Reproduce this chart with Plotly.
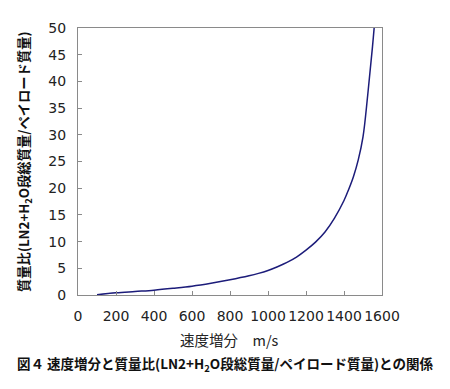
import plotly.graph_objects as go

# 速度増分 (m/s)
delta_v = [100, 200, 300, 400, 500, 600, 700, 800, 900, 950, 1000, 1050, 1100, 1150,
           1200, 1250, 1300, 1350, 1400, 1425, 1450, 1475, 1500, 1525, 1550, 1575]
# 質量比
mass_ratio = [0.05, 0.4, 0.65, 0.9, 1.25, 1.65, 2.2, 2.85, 3.6, 4.05, 4.6, 5.3, 6.1, 7.1,
              8.4, 9.9, 11.8, 14.4, 17.7, 19.8, 22.2, 25.3, 29.6, 37.5, 46.5, 57.0]

x_ticks = [0, 200, 400, 600, 800, 1000, 1200, 1400, 1600]
y_ticks = [0, 5, 10, 15, 20, 25, 30, 35, 40, 45, 50]

JP = "Noto Sans CJK JP"
NUM = "DejaVu Sans"

# The page body has an 8px margin, so the figure is drawn 8px smaller
OFF = 8
W, H = 450 - OFF, 389 - OFF
PL, PR, PT, PB = 78 - OFF, 382 - OFF, 22 - OFF, 295 - OFF  # plot area in figure px
pw, ph = PR - PL, PB - PT

fig = go.Figure()
fig.add_trace(go.Scatter(
    x=delta_v, y=mass_ratio, mode="lines",
    line=dict(color="#1c1c7a", width=1.5, shape="spline", smoothing=1.0),
    showlegend=False,
))

axis_common = dict(
    showline=True, linecolor="#8a8a8a", linewidth=1, mirror=True,
    ticks="inside", ticklen=4, tickcolor="#8a8a8a", tickwidth=1,
    showgrid=False, zeroline=False, tickangle=0,
    tickfont=dict(family=NUM, size=14, color="#222222"),
)

fig.update_xaxes(range=[0, 1600], tickvals=x_ticks, ticklabelstandoff=8, **axis_common)
fig.update_yaxes(range=[0, 50], tickvals=y_ticks, ticklabelstandoff=8, **axis_common)

def px_x(x):
    return (x - OFF - PL) / pw

def px_y(y):
    return (PB - (y - OFF)) / ph

fig.update_layout(
    width=W, height=H,
    margin=dict(l=PL, r=W - PR, t=PT, b=H - PB, pad=0),
    plot_bgcolor="white", paper_bgcolor="white",
    annotations=[
        dict(text="速度増分　m/s", xref="paper", yref="paper",
             x=px_x(229), y=px_y(341), xanchor="center", yanchor="middle",
             showarrow=False, font=dict(family=JP, size=14.5, color="#222222")),
        dict(text="<b>図４ 速度増分と質量比(LN2+H<sub>2</sub>O段総質量/ペイロード質量)との関係</b>",
             xref="paper", yref="paper",
             x=px_x(225), y=px_y(366), xanchor="center", yanchor="middle",
             showarrow=False, font=dict(family=JP, size=13.5, color="#111111")),
        dict(text="<b>質量比(LN2+H<sub>2</sub>O段総質量/ペイロード質量)</b>",
             xref="paper", yref="paper", textangle=-90,
             x=px_x(25), y=px_y(159), xanchor="center", yanchor="middle",
             showarrow=False, font=dict(family=JP, size=13.3, color="#111111")),
    ],
)

fig.write_html("out.html")
